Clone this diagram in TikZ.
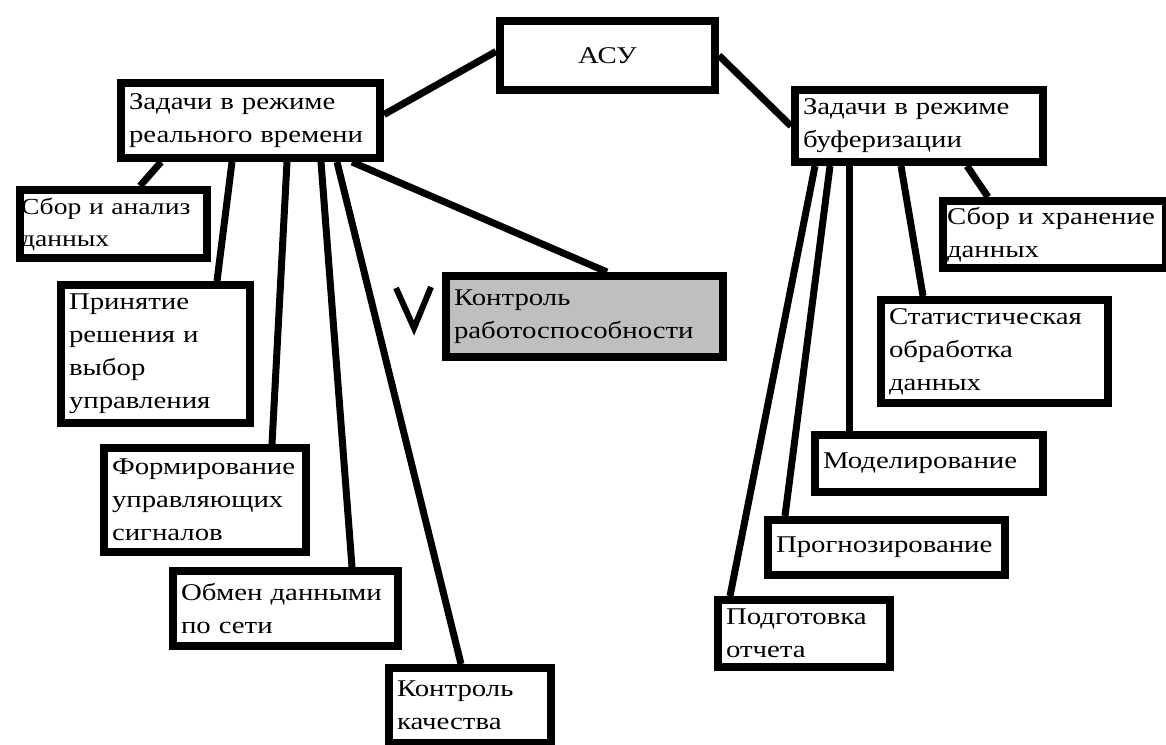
\documentclass[tikz,border=0pt]{standalone}
\usepackage{fontspec}
\setmainfont{Liberation Serif}[FakeStretch=1.2]
\usetikzlibrary{calc}
\tikzset{
	task/.style={draw,line width=8pt,anchor=north west,align=left,inner xsep=8pt,inner ysep=2pt,font=\fontsize{24}{33}\selectfont},%
	checked/.style={task,fill=black!25},%
	branch/.style={line width=7pt},%
	tick/.style={line width=6pt},%
}

\begin{document}
\begin{tikzpicture}[%
		x=1pt,y=-1pt,%
		]
		\useasboundingbox (0,0) rectangle (1166,744);
		% top
		\node[task,text width=199pt,minimum height=69pt,align=center] (asu) at (496,17) {АСУ};
		% real time
		\node[task,text width=243pt,minimum height=75pt] (rt) at (117,79) {Задачи в~режиме\\реального времени};
		\node[task,inner xsep=1pt,text width=185pt,minimum height=68pt,font=\fontsize{23}{32}\selectfont] (collect) at (16,186) {Сбор~и~анализ\\данных};
		\node[task,text width=173pt,minimum height=138pt] (decide) at (57,281) {Принятие\\решения~и\\выбор\\управления};
		\node[task,text width=186pt,minimum height=104pt] (signals) at (100,444) {Формирование\\управляющих\\сигналов};
		\node[task,text width=209pt,minimum height=75pt] (exchange) at (169,567) {Обмен данными\\по сети};
		\node[task,text width=146pt,minimum height=75pt] (quality) at (385,664) {Контроль\\качества};
		\node[checked,text width=261pt,minimum height=81pt] (health) at (442,272) {Контроль\\работоспособности};
		% buffering
		\node[task,text width=232pt,minimum height=72pt] (buf) at (791,86) {Задачи в~режиме\\буферизации};
		\node[task,inner xsep=4pt,text width=215pt,minimum height=67pt] (store) at (939,197) {Сбор~и~хранение\\данных};
		\node[task,text width=211pt,minimum height=103pt] (stat) at (877,296) {Статистическая\\обработка\\данных};
		\node[task,text width=212pt,minimum height=57pt] (model) at (811,431) {Моделирование};
		\node[task,text width=221pt,minimum height=55pt] (forecast) at (764,516) {Прогнозирование};
		\node[task,text width=156pt,minimum height=67pt] (report) at (714,596) {Подготовка\\отчета};
		% links
		\draw[branch] ($(rt.east)+(0,-6)$) -- ($(asu.west)+(0,-4)$);
		\draw[branch] (asu.east) -- (buf.west);
		\draw[branch] ($(rt.south west)+(44,0)$) -- ($(collect.north west)+(124,0)$);
		\draw[branch] ($(rt.south west)+(115,0)$) -- ($(decide.north west)+(160,0)$);
		\draw[branch] ($(rt.south west)+(170,0)$) -- ($(signals.north west)+(172,0)$);
		\draw[branch] ($(rt.south west)+(204,0)$) -- ($(exchange.north west)+(183,0)$);
		\draw[branch] ($(rt.south west)+(220,0)$) -- ($(quality.north west)+(76,0)$);
		\draw[branch] ($(rt.south west)+(235,0)$) -- ($(health.north west)+(165,0)$);
		\draw[branch] ($(buf.south west)+(24,0)$) -- ($(report.north west)+(16,0)$);
		\draw[branch] ($(buf.south west)+(39,0)$) -- ($(forecast.north west)+(21,0)$);
		\draw[branch] ($(buf.south west)+(58,0)$) -- ($(model.north west)+(38,0)$);
		\draw[branch] ($(buf.south west)+(110,0)$) -- ($(stat.north west)+(46,0)$);
		\draw[branch] ($(buf.south west)+(176,0)$) -- ($(store.north west)+(49,0)$);
		% mark
		\draw[tick] (396,288) -- (414,328) -- (431,287);
	\end{tikzpicture}
\end{document}
